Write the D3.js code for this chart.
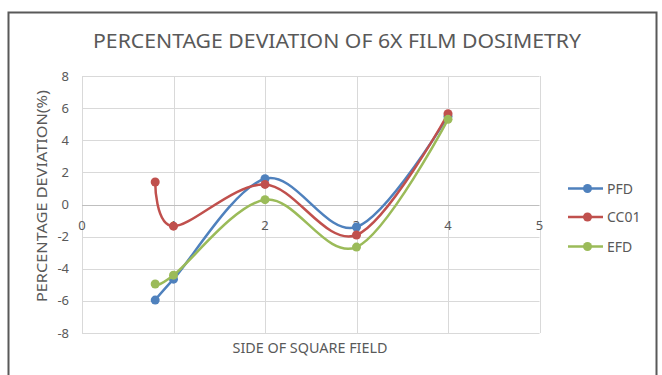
<!DOCTYPE html>
<html>
<head>
<meta charset="utf-8">
<script src="https://d3js.org/d3.v7.min.js"></script>
<style>
  body { margin: 0; background: #fff; }
  text { font-family: "Noto Sans", "Open Sans", sans-serif; fill: #595959; }
</style>
</head>
<body>
<svg id="vis"></svg>
<script>
    // data
    let fieldSides = [0.8, 1, 2, 3, 4];
    let pfd = [-5.95, -4.65, 1.6, -1.4, 5.5];
    let cc01 = [1.4, -1.35, 1.25, -1.9, 5.65];
    let efd = [-4.95, -4.4, 0.3, -2.65, 5.3];
    let seriesNames = ["PFD", "CC01", "EFD"];
    let seriesColors = ["#4F81BD", "#C0504D", "#9BBB59"];
    let xTicks = [0, 1, 2, 3, 4, 5];
    let yTicks = [-8, -6, -4, -2, 0, 2, 4, 6, 8];

    let width = 662, height = 375;
    let svg = d3.select("#vis").attr("width", width).attr("height", height);

    // chart frame
    svg.append("rect")
        .attr("x", 8.5).attr("y", 12.5)
        .attr("width", 648).attr("height", 380)
        .attr("fill", "white")
        .attr("stroke", "#595959")
        .attr("stroke-width", 2);

    let x = d3.scaleLinear().domain([0, 5]).range([82, 539.5]);
    let y = d3.scaleLinear().domain([-8, 8]).range([333, 76]);

    // gridlines
    svg.selectAll(".vgrid")
        .data(xTicks)
        .join("line")
        .attr("class", "vgrid")
        .attr("x1", d => Math.round(x(d)) + 0.5).attr("x2", d => Math.round(x(d)) + 0.5)
        .attr("y1", y(8)).attr("y2", y(-8))
        .attr("stroke", "#d9d9d9").attr("stroke-width", 1);
    svg.selectAll(".hgrid")
        .data(yTicks)
        .join("line")
        .attr("class", "hgrid")
        .attr("x1", x(0)).attr("x2", x(5))
        .attr("y1", d => Math.round(y(d)) + 0.5).attr("y2", d => Math.round(y(d)) + 0.5)
        .attr("stroke", d => d === 0 ? "#bfbfbf" : "#d9d9d9").attr("stroke-width", 1);

    // tick labels
    svg.selectAll(".ylab")
        .data(yTicks)
        .join("text")
        .attr("class", "ylab")
        .attr("x", 69).attr("y", d => y(d) + 4.5)
        .attr("text-anchor", "end")
        .attr("font-size", 13)
        .text(d => d);
    svg.selectAll(".xlab")
        .data(xTicks)
        .join("text")
        .attr("class", "xlab")
        .attr("x", d => x(d)).attr("y", 230)
        .attr("text-anchor", "middle")
        .attr("font-size", 13)
        .text(d => d);

    // titles
    svg.append("text")
        .attr("x", 337).attr("y", 47.5)
        .attr("text-anchor", "middle")
        .attr("font-size", 20)
        .attr("textLength", 488).attr("lengthAdjust", "spacingAndGlyphs")
        .text("PERCENTAGE DEVIATION OF 6X FILM DOSIMETRY");
    svg.append("text")
        .attr("x", 310).attr("y", 352.5)
        .attr("text-anchor", "middle")
        .attr("font-size", 14.5)
        .attr("textLength", 155).attr("lengthAdjust", "spacingAndGlyphs")
        .text("SIDE OF SQUARE FIELD");
    svg.append("text")
        .attr("transform", "translate(46.5,196)rotate(-90)")
        .attr("text-anchor", "middle")
        .attr("font-size", 14.5)
        .attr("textLength", 212).attr("lengthAdjust", "spacingAndGlyphs")
        .text("PERCENTAGE DEVIATION(%)");

    // series
    let allSeries = [pfd, cc01, efd];
    let line = d3.line()
        .x((d, i) => x(fieldSides[i]))
        .y(d => y(d))
        .curve(d3.curveCatmullRom.alpha(0));

    allSeries.forEach((vals, s) => {
        svg.append("path")
            .attr("d", line(vals))
            .attr("fill", "none")
            .attr("stroke", seriesColors[s])
            .attr("stroke-width", 2.5)
            .attr("stroke-linecap", "round");
        svg.selectAll(".pt" + s)
            .data(vals)
            .join("circle")
            .attr("class", "pt" + s)
            .attr("cx", (d, i) => x(fieldSides[i]))
            .attr("cy", d => y(d))
            .attr("r", 4.5)
            .attr("fill", seriesColors[s]);
    });

    // legend
    let legendY = [188.5, 217, 246.5];
    seriesNames.forEach((name, s) => {
        let g = svg.append("g").attr("transform", `translate(568,${legendY[s]})`);
        g.append("line")
            .attr("x1", 0).attr("x2", 35)
            .attr("stroke", seriesColors[s]).attr("stroke-width", 2.5);
        g.append("circle").attr("cx", 19.5).attr("r", 4.5).attr("fill", seriesColors[s]);
        g.append("text")
            .attr("x", 39).attr("y", 5)
            .attr("font-size", 14)
            .text(name);
    });
</script>
</body>
</html>
